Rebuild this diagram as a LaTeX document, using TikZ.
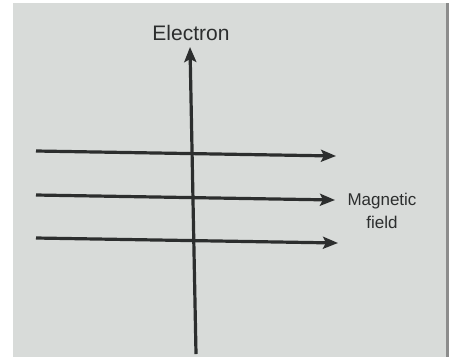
\documentclass[tikz,border=0pt]{standalone}
\usepackage{fontspec}
\setmainfont{Liberation Sans}
\usetikzlibrary{arrows.meta,positioning}
\definecolor{paper}{RGB}{216,219,217}
\definecolor{ink}{RGB}{44,46,46}
\tikzset{
  fieldline/.style={draw=ink, line width=3.2pt, -{Stealth[length=15pt,width=12pt,inset=3pt]}},
  lbl/.style={text=ink, inner sep=0pt, align=center}
}

\begin{document}
\begin{tikzpicture}[x=1pt,y=-1pt]
        \useasboundingbox (0,0) rectangle (449,360);
        % Page
        \fill[white] (0,0) rectangle (449,360);
        \fill[paper] (13,3) rectangle (446,357);
        \fill[black!45] (446,3) rectangle (449,357);
        % Labels
        \node[lbl, font=\fontsize{21}{24}\selectfont] (electron) at (191,33) {Electron};
        \node[lbl, font=\fontsize{17}{23}\selectfont] (field) at (382,211) {Magnetic\\field};
        % Electron path
        \coordinate (ebot) at (196,354);
        \coordinate (etop) at (190,47);
        \draw[fieldline] (ebot) -- (etop);
        % Field lines
        \coordinate (a1) at (36,151); \coordinate (b1) at (336,156);
        \coordinate (a2) at (36,195); \coordinate (b2) at (335,200);
        \coordinate (a3) at (36,238); \coordinate (b3) at (338,243);
        \draw[fieldline] (a1) -- (b1);
        \draw[fieldline] (a2) -- (b2);
        \draw[fieldline] (a3) -- (b3);
    \end{tikzpicture}
\end{document}
